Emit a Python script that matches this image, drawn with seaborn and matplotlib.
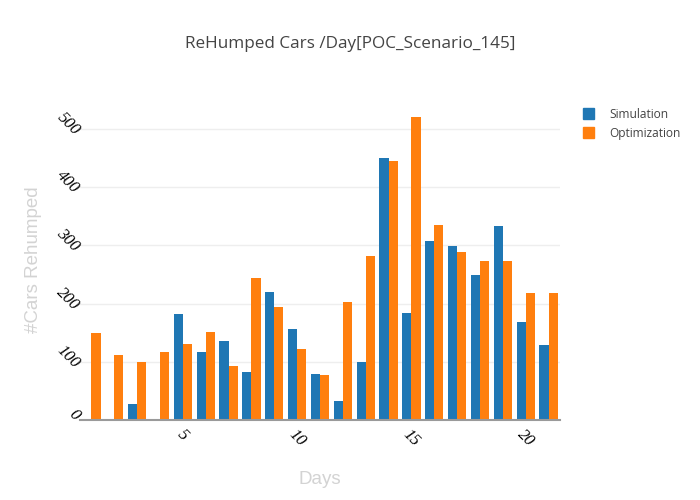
import matplotlib
matplotlib.use("Agg")
import matplotlib.pyplot as plt
import matplotlib.transforms as mtransforms
import seaborn as sns
import pandas as pd

days = list(range(1, 22))
simulation = [0, 0, 28, 0, 182, 117, 135, 82, 220, 157,
              79, 32, 100, 450, 184, 307, 299, 249, 334, 168, 129]
optimization = [150, 112, 99, 117, 131, 151, 93, 244, 194, 122,
                78, 203, 282, 446, 521, 335, 288, 273, 273, 219, 218]
series_names = ["Simulation", "Optimization"]
colors = ["#1f77b4", "#ff7f0e"]

df = pd.DataFrame({
    "Days": days * 2,
    "Cars": simulation + optimization,
    "Series": [series_names[0]] * len(days) + [series_names[1]] * len(days),
})

sns.set_theme(style="white")

fig = plt.figure(figsize=(7, 5), dpi=100)
ax = fig.add_axes([80 / 700, 80 / 500, 480 / 700, 320 / 500])

sns.barplot(
    data=df, x="Days", y="Cars", hue="Series",
    palette=colors, saturation=1, native_scale=True, width=0.8, gap=0,
    linewidth=0, ax=ax, legend=False,
)

ax.set_xlim(0.5, 21.5)
ax.set_ylim(0, 550)
ax.set_xticks([5, 10, 15, 20])
ax.set_yticks([0, 100, 200, 300, 400, 500])
ax.yaxis.grid(True, color="#eeeeee", linewidth=1)
ax.set_axisbelow(True)

for s in ["top", "right", "left"]:
    ax.spines[s].set_visible(False)
ax.spines["bottom"].set_color("#9a9a9a")
ax.spines["bottom"].set_linewidth(1.5)

tick_font = dict(family="Liberation Serif", style="italic", size=12, color="black")
ax.tick_params(axis="x", length=0, pad=5)
ax.tick_params(axis="y", length=0, pad=1)
for lab in ax.get_xticklabels():
    lab.set(rotation=-45, ha="center", va="top", **tick_font)
# plotly puts the rotated labels a little higher and closer to the axis
shift = mtransforms.ScaledTranslation(4 / 100, 5 / 100, fig.dpi_scale_trans)
for lab in ax.get_yticklabels():
    lab.set(rotation=-45, ha="right", va="center", **tick_font)
    lab.set_transform(lab.get_transform() + shift)

ax.set_xlabel("Days", fontsize=13.5, color="#d3d3d3", family="Liberation Sans", labelpad=15)
ax.set_ylabel("#Cars Rehumped", fontsize=13.5, color="#d3d3d3", family="Liberation Sans", labelpad=8)

fig.text(0.5, 1 - 44 / 500, "ReHumped Cars /Day[POC_Scenario_145]", ha="center", va="center",
         fontsize=12.3, color="#444444", family="Open Sans")

handles = [plt.Rectangle((0, 0), 1, 1, color=c) for c in colors]
fig.legend(handles, series_names, loc="upper left", bbox_to_anchor=(572 / 700, 1 - 97 / 500),
           frameon=False, handlelength=0.95, handleheight=0.95, handletextpad=1.3,
           labelspacing=0.5, prop={"family": "Open Sans", "size": 8.6}, labelcolor="#444444")

fig.savefig("out.png", dpi=100)
